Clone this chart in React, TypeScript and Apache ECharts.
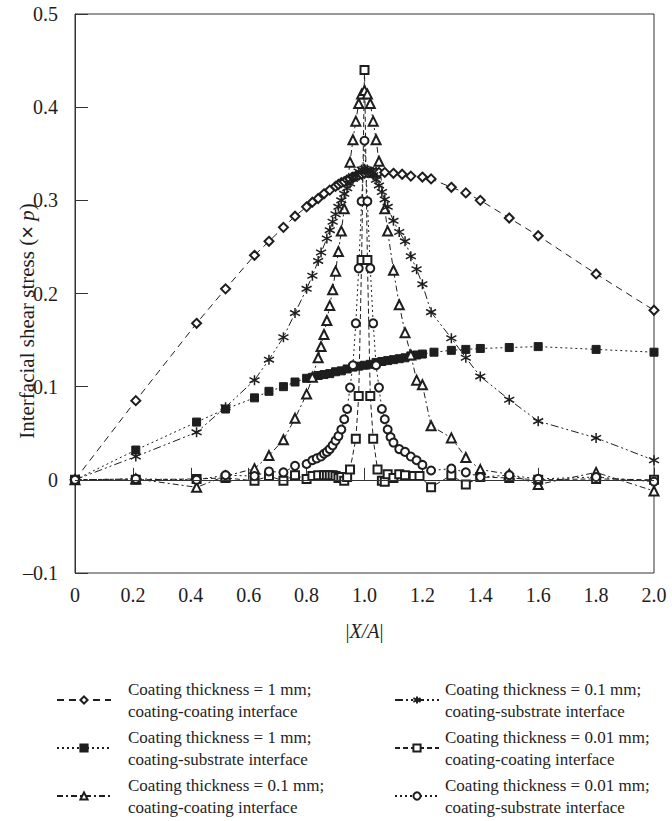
import React, { useEffect, useRef } from 'react';
import * as echarts from 'echarts';

// ---- Data ----
const NAMES = [
  'Coating thickness = 1 mm;\ncoating-coating interface',
  'Coating thickness = 1 mm;\ncoating-substrate interface',
  'Coating thickness = 0.1 mm;\ncoating-coating interface',
  'Coating thickness = 0.1 mm;\ncoating-substrate interface',
  'Coating thickness = 0.01 mm;\ncoating-coating interface',
  'Coating thickness = 0.01 mm;\ncoating-substrate interface',
];

const X_TICKS = [0, 0.2, 0.4, 0.6, 0.8, 1.0, 1.2, 1.4, 1.6, 1.8, 2.0];
const Y_TICKS = [-0.1, 0, 0.1, 0.2, 0.3, 0.4, 0.5];

// 1 mm, coating-coating (open diamonds)
const X_D1 = [0, 0.21, 0.42, 0.52, 0.62, 0.67, 0.72, 0.76, 0.8, 0.82, 0.84, 0.86, 0.88, 0.9, 0.91, 0.92, 0.93, 0.94, 0.95, 0.96, 0.97, 0.98, 0.99, 1.0, 1.01, 1.02, 1.03, 1.04, 1.05, 1.07, 1.1, 1.13, 1.16, 1.2, 1.23, 1.3, 1.35, 1.4, 1.5, 1.6, 1.8, 2.0];
const Y_D1 = [0, 0.085, 0.168, 0.205, 0.241, 0.256, 0.271, 0.283, 0.293, 0.298, 0.302, 0.307, 0.311, 0.315, 0.317, 0.319, 0.32, 0.322, 0.323, 0.325, 0.326, 0.327, 0.328, 0.329, 0.33, 0.33, 0.33, 0.33, 0.33, 0.33, 0.329, 0.328, 0.326, 0.325, 0.323, 0.314, 0.308, 0.3, 0.281, 0.262, 0.221, 0.182];

// 1 mm, coating-substrate (filled squares)
const X_S1 = [0, 0.21, 0.42, 0.52, 0.62, 0.67, 0.72, 0.76, 0.8, 0.82, 0.84, 0.86, 0.88, 0.9, 0.92, 0.94, 0.96, 0.98, 1.0, 1.02, 1.04, 1.06, 1.08, 1.1, 1.12, 1.14, 1.16, 1.18, 1.2, 1.24, 1.3, 1.35, 1.4, 1.5, 1.6, 1.8, 2.0];
const Y_S1 = [0, 0.032, 0.062, 0.076, 0.088, 0.095, 0.1, 0.105, 0.109, 0.11, 0.112, 0.113, 0.114, 0.116, 0.117, 0.119, 0.121, 0.122, 0.123, 0.124, 0.126, 0.127, 0.128, 0.129, 0.13, 0.131, 0.133, 0.134, 0.135, 0.137, 0.139, 0.14, 0.141, 0.142, 0.143, 0.14, 0.137];

// 0.1 mm, coating-coating (open triangles)
const X_T1 = [0, 0.21, 0.42, 0.52, 0.62, 0.67, 0.72, 0.76, 0.8, 0.82, 0.84, 0.85, 0.86, 0.87, 0.88, 0.89, 0.9, 0.91, 0.92, 0.93, 0.95, 0.96, 0.97, 0.98, 0.99, 1.0, 1.01, 1.02, 1.03, 1.04, 1.05, 1.07, 1.08, 1.1, 1.12, 1.14, 1.16, 1.18, 1.2, 1.23, 1.3, 1.35, 1.4, 1.5, 1.6, 1.8, 2.0];
const Y_T1 = [0, 0.001, -0.008, 0.004, 0.012, 0.026, 0.043, 0.066, 0.092, 0.11, 0.131, 0.143, 0.156, 0.171, 0.187, 0.204, 0.224, 0.245, 0.267, 0.291, 0.341, 0.365, 0.385, 0.404, 0.414, 0.418, 0.414, 0.404, 0.385, 0.365, 0.342, 0.291, 0.267, 0.225, 0.188, 0.158, 0.134, 0.107, 0.102, 0.058, 0.045, 0.024, 0.011, 0.006, -0.005, 0.008, -0.012];

// 0.1 mm, coating-substrate (asterisks)
const X_X1 = [0, 0.21, 0.42, 0.52, 0.62, 0.67, 0.72, 0.76, 0.8, 0.82, 0.84, 0.85, 0.87, 0.88, 0.89, 0.9, 0.91, 0.92, 0.93, 0.94, 0.95, 0.96, 0.97, 0.98, 0.99, 1.0, 1.01, 1.02, 1.03, 1.04, 1.05, 1.06, 1.07, 1.08, 1.1, 1.12, 1.14, 1.16, 1.18, 1.2, 1.23, 1.3, 1.35, 1.4, 1.5, 1.6, 1.8, 2.0];
const Y_X1 = [0, 0.025, 0.051, 0.078, 0.107, 0.129, 0.153, 0.179, 0.205, 0.219, 0.235, 0.244, 0.259, 0.268, 0.277, 0.285, 0.293, 0.3, 0.307, 0.313, 0.318, 0.323, 0.327, 0.331, 0.333, 0.334, 0.333, 0.331, 0.327, 0.322, 0.316, 0.309, 0.301, 0.293, 0.278, 0.266, 0.256, 0.24, 0.226, 0.21, 0.18, 0.152, 0.131, 0.111, 0.086, 0.063, 0.045, 0.021];

// 0.01 mm, coating-coating (open squares)
const X_Q1 = [0, 0.21, 0.42, 0.52, 0.62, 0.67, 0.72, 0.76, 0.8, 0.82, 0.84, 0.86, 0.87, 0.88, 0.89, 0.9, 0.91, 0.92, 0.93, 0.94, 0.95, 0.97, 0.98, 0.99, 1.0, 1.01, 1.02, 1.03, 1.045, 1.06, 1.07, 1.08, 1.1, 1.12, 1.14, 1.17, 1.19, 1.23, 1.3, 1.35, 1.4, 1.5, 1.6, 1.8, 2.0];
const Y_Q1 = [0, 0, 0.001, 0.002, -0.001, 0.004, -0.001, 0.005, 0.001, 0.004, 0.005, 0.005, 0.005, 0.005, 0.005, 0.004, 0.002, 0.003, -0.001, 0.003, 0.011, 0.044, 0.09, 0.236, 0.44, 0.236, 0.09, 0.044, 0.011, -0.001, -0.002, 0.006, 0.002, 0.006, 0.005, 0.004, 0.004, -0.008, 0.005, -0.005, 0.003, 0.002, 0, 0.001, 0];

// 0.01 mm, coating-substrate (open circles)
const X_C1 = [0, 0.21, 0.42, 0.52, 0.62, 0.67, 0.72, 0.76, 0.8, 0.82, 0.835, 0.85, 0.86, 0.87, 0.88, 0.89, 0.9, 0.91, 0.92, 0.93, 0.94, 0.95, 0.96, 0.97, 0.98, 0.99, 1.0, 1.01, 1.02, 1.03, 1.04, 1.05, 1.06, 1.07, 1.08, 1.09, 1.1, 1.12, 1.14, 1.16, 1.18, 1.2, 1.23, 1.3, 1.35, 1.4, 1.5, 1.6, 1.8, 2.0];
const Y_C1 = [0, 0.001, 0, 0.005, 0.004, 0.009, 0.008, 0.015, 0.017, 0.021, 0.023, 0.025, 0.028, 0.03, 0.033, 0.037, 0.042, 0.047, 0.054, 0.065, 0.076, 0.099, 0.123, 0.168, 0.227, 0.299, 0.364, 0.299, 0.227, 0.168, 0.123, 0.099, 0.076, 0.065, 0.054, 0.046, 0.04, 0.033, 0.03, 0.025, 0.021, 0.016, 0.01, 0.012, 0.008, 0.003, 0.005, 0.001, 0.003, -0.002];

const zip = (xs: number[], ys: number[]) => xs.map((x, i) => [x, ys[i]]);

const INK = '#1e1e1e';
const SERIF = '"Liberation Serif", "Times New Roman", serif';
const STAR = 'path://M0,-5L0,5M-4.4,-2.6L4.4,2.6M-4.4,2.6L4.4,-2.6';

export default function App() {
  const ref = useRef<HTMLDivElement>(null);

  useEffect(() => {
    if (!ref.current) return;
    const chart = echarts.init(ref.current, null, { renderer: 'svg' });

    const mk = (name: string, data: number[][], symbol: string, size: number, dash: any, bw = 1, extra: any = {}) => ({
      name,
      type: 'line',
      data,
      symbol,
      symbolSize: size,
      showAllSymbol: true,
      lineStyle: { color: INK, width: 1, type: dash },
      itemStyle: { color: INK, borderColor: INK, borderWidth: bw },
      emphasis: { disabled: true },
      z: 2,
      ...extra,
    });

    const fmtX = (v: number) => (Math.abs(v) < 1e-9 ? '0' : v.toFixed(1));
    const fmtY = (v: number) => (Math.abs(v) < 1e-9 ? '0' : v < 0 ? '\u2013' + Math.abs(v).toFixed(1) : v.toFixed(1));

    const legendText = (padLeft: number) => ({
      fontFamily: SERIF,
      fontSize: 17,
      color: INK,
      lineHeight: 22,
      padding: [22, 0, 0, padLeft],
    });

    const legendCommon = {
      orient: 'vertical',
      top: 667,
      height: 260,
      padding: 0,
      itemHeight: 9,
      itemGap: -18,
      selectedMode: false,
    };

    chart.setOption({
      animation: false,
      backgroundColor: '#ffffff',
      grid: { left: 75, right: 18, top: 14, bottom: 248, show: true, borderColor: '#333', borderWidth: 1, backgroundColor: 'transparent' },
      xAxis: {
        type: 'value',
        min: X_TICKS[0],
        max: X_TICKS[X_TICKS.length - 1],
        interval: 0.2,
        axisLine: { lineStyle: { color: '#333', width: 1 } },
        axisTick: { inside: true, length: 12, lineStyle: { color: '#333' } },
        axisLabel: { formatter: fmtX, color: INK, fontFamily: SERIF, fontSize: 20, margin: 12 },
        splitLine: { show: false },
        name: '|{i|X/A}|',
        nameLocation: 'middle',
        nameGap: 48,
        nameTextStyle: { fontFamily: SERIF, fontSize: 20, color: INK, rich: { i: { fontFamily: SERIF, fontSize: 20, fontStyle: 'italic', color: INK } } },
      },
      yAxis: {
        type: 'value',
        min: Y_TICKS[0],
        max: Y_TICKS[Y_TICKS.length - 1],
        interval: 0.1,
        axisLine: { lineStyle: { color: '#333', width: 1 } },
        axisTick: { inside: true, length: 13, lineStyle: { color: '#333' } },
        axisLabel: { formatter: fmtY, color: INK, fontFamily: SERIF, fontSize: 20, margin: 17 },
        splitLine: { show: false },
      },
      legend: [
        { ...legendCommon, left: 56, itemWidth: 54, textStyle: legendText(12), data: [NAMES[0], NAMES[1], NAMES[2]] },
        { ...legendCommon, left: 394, itemWidth: 44, textStyle: legendText(1), data: [NAMES[3], NAMES[4], NAMES[5]] },
      ],
      graphic: [
        {
          type: 'text',
          x: 27,
          y: 321,
          rotation: Math.PI / 2,
          style: {
            text: 'Interfacial shear stress ({x|\u00d7} {i|p})',
            fontFamily: SERIF,
            fontSize: 21,
            fill: INK,
            align: 'center',
            verticalAlign: 'middle',
            rich: {
              x: { fontFamily: '"Liberation Sans", Arial, sans-serif', fontSize: 22, fill: INK },
              i: { fontFamily: SERIF, fontStyle: 'italic', fontSize: 21, fill: INK },
            },
          },
        },
      ],
      series: [
        mk(NAMES[0], zip(X_D1, Y_D1), 'emptyDiamond', 9, [7, 5], 1, {
          markLine: {
            silent: true,
            symbol: 'none',
            label: { show: false },
            lineStyle: { color: '#333', width: 1, type: 'solid' },
            data: [{ yAxis: 0 }],
          },
        }),
        mk(NAMES[1], zip(X_S1, Y_S1), 'rect', 8, [2, 3]),
        mk(NAMES[2], zip(X_T1, Y_T1), 'emptyTriangle', 9, [6, 3, 2, 3]),
        mk(NAMES[3], zip(X_X1, Y_X1), STAR, 10, [8, 3, 2, 3, 2, 3], 1.5),
        mk(NAMES[4], zip(X_Q1, Y_Q1), 'emptyRect', 8, [5, 3]),
        mk(NAMES[5], zip(X_C1, Y_C1), 'emptyCircle', 8, [2, 3]),
      ],
    });

    return () => chart.dispose();
  }, []);

  return <div ref={ref} style={{ position: 'fixed', left: 0, top: 0, width: 672, height: 821, background: '#fff' }} />;
}
